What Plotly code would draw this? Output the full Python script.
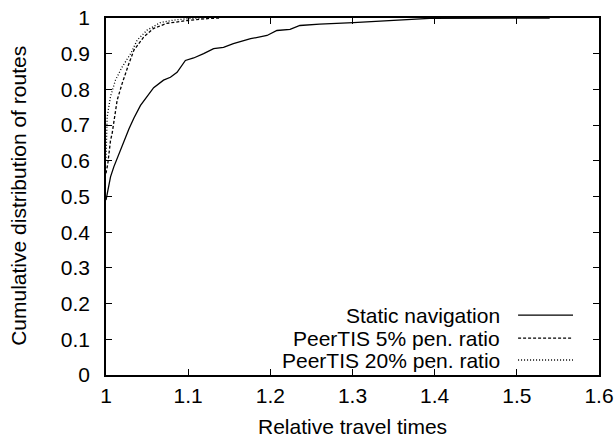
import plotly.graph_objects as go

static_x = [1.0, 1.0015, 1.0034, 1.0055, 1.0095, 1.0156, 1.0217, 1.028, 1.034, 1.042, 1.058, 1.070,
            1.0784, 1.0865, 1.0966, 1.1067, 1.1188, 1.131, 1.143, 1.155, 1.176, 1.196, 1.208, 1.224,
            1.236, 1.26, 1.301, 1.342, 1.394, 1.54]
static_y = [0.49, 0.508, 0.536, 0.555, 0.583, 0.62, 0.657, 0.69, 0.72, 0.755, 0.805, 0.826,
            0.834, 0.848, 0.881, 0.888, 0.90, 0.914, 0.918, 0.928, 0.942, 0.951, 0.965, 0.968,
            0.979, 0.983, 0.987, 0.993, 0.999, 1.0]

p5_x = [1.0, 1.0022, 1.0055, 1.0075, 1.0136, 1.0197, 1.028, 1.034, 1.046, 1.058, 1.074, 1.099, 1.127, 1.14]
p5_y = [0.565, 0.592, 0.657, 0.677, 0.77, 0.817, 0.873, 0.91, 0.947, 0.971, 0.985, 0.993, 0.999, 1.0]

p20_x = [1.0, 1.0014, 1.0055, 1.0115, 1.0197, 1.03, 1.038, 1.05, 1.066, 1.082, 1.103, 1.12]
p20_y = [0.60, 0.723, 0.78, 0.826, 0.863, 0.90, 0.938, 0.966, 0.987, 0.994, 0.999, 1.0]

names = ["Static navigation", "PeerTIS 5% pen. ratio", "PeerTIS 20% pen. ratio"]
x_ticks = [1, 1.1, 1.2, 1.3, 1.4, 1.5, 1.6]
x_tick_labels = ["1", "1.1", "1.2", "1.3", "1.4", "1.5", "1.6"]
y_ticks = [0, 0.1, 0.2, 0.3, 0.4, 0.5, 0.6, 0.7, 0.8, 0.9, 1]
y_tick_labels = ["0", "0.1", "0.2", "0.3", "0.4", "0.5", "0.6", "0.7", "0.8", "0.9", "1"]
x_title = "Relative travel times"
y_title = "Cumulative distribution of routes"

dashes = ["solid", "3px,2px", "1px,2px"]
series = [(static_x, static_y), (p5_x, p5_y), (p20_x, p20_y)]

W, H = 616, 438
L, R, T, B = 105.5, 17, 17.5, 63
pw, ph = W - L - R, H - T - B

def px_to_paper(px, py):
    return (px - L) / pw, (H - B - py) / ph

fig = go.Figure()
for (xs, ys), nm, d in zip(series, names, dashes):
    fig.add_trace(go.Scatter(x=xs, y=ys, mode="lines", name=nm,
                             line=dict(color="black", width=1.3, dash=d)))

font = dict(family="Liberation Sans, Arial, sans-serif", size=21, color="black")

# manual legend (text on left, sample on right, gnuplot style)
leg_py = [315, 338, 360]
for nm, d, py in zip(names, dashes, leg_py):
    tx, ty = px_to_paper(502, py)
    x0, _ = px_to_paper(518, py)
    x1, _ = px_to_paper(573, py)
    fig.add_annotation(x=tx, y=ty, xref="paper", yref="paper", text=nm, showarrow=False,
                       xanchor="right", yanchor="middle", font=font)
    fig.add_shape(type="line", xref="paper", yref="paper", x0=x0, x1=x1, y0=ty, y1=ty,
                  line=dict(color="black", width=1.3, dash=d))

# axis titles
ax, ay = px_to_paper(352, 427)
fig.add_annotation(x=ax, y=ay, xref="paper", yref="paper", text=x_title, showarrow=False,
                   xanchor="center", yanchor="middle", font=font)
bx, by = px_to_paper(18, 196)
fig.add_annotation(x=bx, y=by, xref="paper", yref="paper", text=y_title, showarrow=False,
                   xanchor="center", yanchor="middle", textangle=-90, font=font)

axis_common = dict(ticks="inside", ticklen=6, tickcolor="black", tickwidth=1,
                   showline=True, linecolor="black", linewidth=1.5, mirror="ticks",
                   showgrid=False, zeroline=False, automargin=False)

fig.update_layout(
    width=W, height=H,
    margin=dict(l=L, r=R, t=T, b=B),
    paper_bgcolor="white", plot_bgcolor="white",
    showlegend=False,
    font=font,
    xaxis=dict(range=[1, 1.6], tickvals=x_ticks, ticktext=x_tick_labels,
               ticklabelstandoff=1, **axis_common),
    yaxis=dict(range=[0, 1], tickvals=y_ticks, ticktext=y_tick_labels,
               ticklabelstandoff=10, **axis_common),
)

fig.write_html("out.html")
